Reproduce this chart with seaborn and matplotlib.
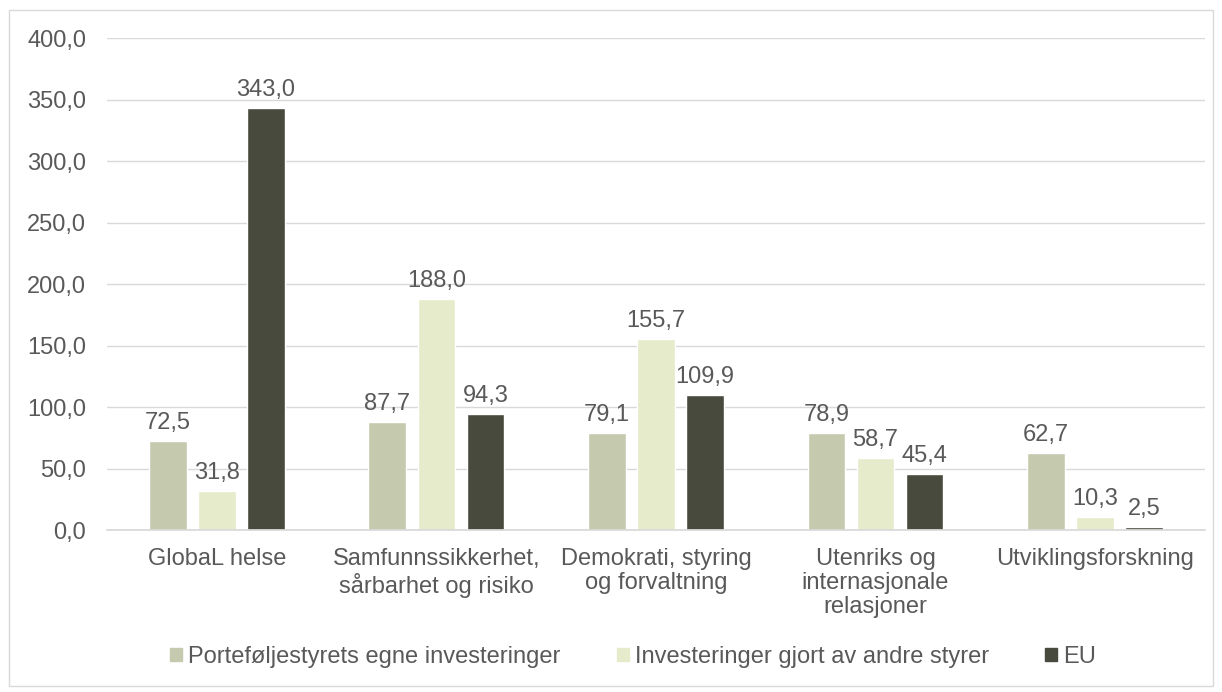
import matplotlib
matplotlib.use("Agg")
import matplotlib.pyplot as plt
import matplotlib.patches as mpatches
import seaborn as sns
import pandas as pd

categories = ["GlobaL helse", "Samfunnssikkerhet,\nsårbarhet og risiko", "Demokrati, styring\nog forvaltning",
              "Utenriks og\ninternasjonale\nrelasjoner", "Utviklingsforskning"]
series_names = ["Porteføljestyrets egne investeringer", "Investeringer gjort av andre styrer", "EU"]
portefolje = [72.5, 87.7, 79.1, 78.9, 62.7]
andre = [31.8, 188.0, 155.7, 58.7, 10.3]
eu = [343.0, 94.3, 109.9, 45.4, 2.5]
colors = ["#C5CAAE", "#E5EBCB", "#474A3C"]
yticks = [0, 50, 100, 150, 200, 250, 300, 350, 400]

rows = []
for s, vals in zip(series_names, [portefolje, andre, eu]):
    for c, v in zip(categories, vals):
        rows.append({"Kategori": c, "Serie": s, "Verdi": v})
df = pd.DataFrame(rows)

sns.set_theme(style="white")
plt.rcParams['font.family'] = ['Liberation Sans', 'DejaVu Sans']
txt = "#595959"
fs = 17

fig = plt.figure(figsize=(12.22, 6.92), dpi=100)
ax = fig.add_axes([0.0876, 0.234, 0.8984, 0.711])
sns.barplot(data=df, x="Kategori", y="Verdi", hue="Serie", palette=colors,
            width=0.67, gap=0.23, ax=ax, legend=False, saturation=1)

for cont in ax.containers:
    ax.bar_label(cont, labels=[f"{v:.1f}".replace(".", ",") for v in cont.datavalues],
                 padding=5, fontsize=fs, color=txt)

ax.set_ylim(0, 400)
ax.set_yticks(yticks)
ax.set_yticklabels([f"{v:.1f}".replace(".", ",") for v in yticks], fontsize=fs, color=txt)
ax.set_xlim(-0.5, 4.5)
ax.tick_params(axis="x", labelsize=fs, labelcolor=txt, length=0, pad=13)
for lab in ax.get_xticklabels():
    lab.set_linespacing(1.12)
ax.tick_params(axis="y", length=0, pad=15)
ax.set_xlabel("")
ax.set_ylabel("")
ax.yaxis.grid(True, color="#D9D9D9", linewidth=1)
ax.set_axisbelow(True)
for sp in ["top", "right", "left"]:
    ax.spines[sp].set_visible(False)
ax.spines["bottom"].set_color("#D9D9D9")

handles = [mpatches.Patch(color=c, label=s) for c, s in zip(colors, series_names)]
fig.legend(handles=handles, loc="center", bbox_to_anchor=(0.518, 0.051), ncol=3, frameon=False,
           fontsize=fs, labelcolor=txt, handlelength=0.5, handleheight=0.5, handletextpad=0.25,
           columnspacing=2.4, borderpad=0)

fig.patches.append(mpatches.Rectangle((9/1222, 1-686/692), 1204/1222, 676/692,
                                      transform=fig.transFigure, fill=False,
                                      edgecolor="#D9D9D9", linewidth=1))
fig.savefig("out.png", dpi=100)
